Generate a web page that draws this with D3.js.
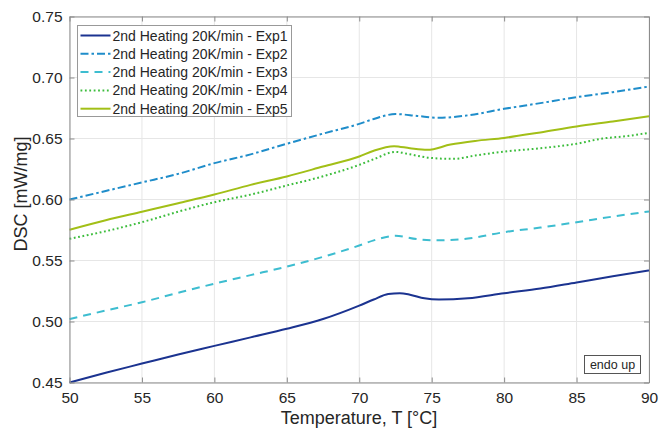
<!DOCTYPE html>
<html>
<head>
<meta charset="utf-8">
<script src="https://cdn.jsdelivr.net/npm/d3@7"></script>
<style>
  body { margin: 0; background: #fff; }
  svg { display: block; font-family: "Liberation Sans", Arial, sans-serif; }
  .grid line { stroke: #e6e6e6; stroke-width: 1; }
  .tick text { fill: #262626; }
</style>
</head>
<body>
<div id="chart"></div>
<script>
// Data (Temperature in °C, DSC in mW/mg)
const exp1T = [50, 52.5, 55, 57.5, 60, 62.5, 65, 67.5, 70, 71, 72, 72.8, 73.5, 74.5, 75.5, 77.5, 80, 82.5, 85, 87.5, 90];
const exp1V = [0.450, 0.458, 0.4655, 0.473, 0.480, 0.487, 0.494, 0.502, 0.513, 0.518, 0.5225, 0.5232, 0.522, 0.519, 0.518, 0.519, 0.5232, 0.527, 0.532, 0.537, 0.5418];

const exp2T = [50, 52.5, 55, 57.5, 60, 62.5, 65, 67.5, 70, 71, 72.5, 74, 75.5, 77.5, 80, 82.5, 85, 87.5, 90];
const exp2V = [0.600, 0.607, 0.614, 0.621, 0.6298, 0.637, 0.6457, 0.654, 0.662, 0.666, 0.670, 0.6685, 0.667, 0.669, 0.6743, 0.679, 0.6839, 0.688, 0.6926];

const exp3T = [50, 52.5, 55, 57.5, 60, 62.5, 65, 67.5, 70, 71, 72.5, 74, 75.5, 77.5, 80, 82.5, 85, 87.5, 90];
const exp3V = [0.502, 0.509, 0.5158, 0.5235, 0.531, 0.538, 0.545, 0.553, 0.5623, 0.5665, 0.5702, 0.5675, 0.5665, 0.568, 0.5732, 0.577, 0.5814, 0.586, 0.5902];

const exp4T = [50, 52.5, 55, 57.5, 60, 62.5, 65, 67.5, 70, 71, 72.5, 73.5, 75, 76.5, 78, 80, 82.5, 85, 86.8, 88.5, 90];
const exp4V = [0.5678, 0.574, 0.5814, 0.590, 0.5978, 0.604, 0.6115, 0.619, 0.6284, 0.633, 0.639, 0.637, 0.634, 0.6333, 0.636, 0.6393, 0.642, 0.6457, 0.650, 0.652, 0.6547];

const exp5T = [50, 52.5, 55, 57.5, 60, 62.5, 65, 67.5, 70, 71, 72.4, 73.5, 74.7, 76.3, 78, 80, 82.5, 85, 87.5, 90];
const exp5V = [0.5752, 0.583, 0.590, 0.597, 0.6041, 0.612, 0.6189, 0.627, 0.6352, 0.640, 0.6437, 0.642, 0.6407, 0.645, 0.648, 0.6505, 0.655, 0.6598, 0.664, 0.6683];

const seriesNames = [
  '2nd Heating 20K/min - Exp1',
  '2nd Heating 20K/min - Exp2',
  '2nd Heating 20K/min - Exp3',
  '2nd Heating 20K/min - Exp4',
  '2nd Heating 20K/min - Exp5'
];
const xTicks = [50, 55, 60, 65, 70, 75, 80, 85, 90];
const yTicks = [0.45, 0.50, 0.55, 0.60, 0.65, 0.70, 0.75];

const series = [
  { name: seriesNames[0], T: exp1T, V: exp1V, color: '#1b3390', dash: null },
  { name: seriesNames[1], T: exp2T, V: exp2V, color: '#1f8dca', dash: '8,3,2.5,3' },
  { name: seriesNames[2], T: exp3T, V: exp3V, color: '#3dbdd0', dash: '8,6' },
  { name: seriesNames[3], T: exp4T, V: exp4V, color: '#3dbd3d', dash: '1.8,2.6' },
  { name: seriesNames[4], T: exp5T, V: exp5V, color: '#a2bf17', dash: null }
];

const width = 659, height = 430;
const margin = { left: 69.5, right: 10, top: 16.5, bottom: 47.5 };

const svg = d3.select('#chart').append('svg')
  .attr('width', width)
  .attr('height', height);

const x = d3.scaleLinear().domain([50, 90]).range([margin.left, width - margin.right]);
const y = d3.scaleLinear().domain([0.45, 0.75]).range([height - margin.bottom, margin.top]);

// Grid
const grid = svg.append('g').attr('class', 'grid');
grid.selectAll('.gx').data(xTicks).join('line')
  .attr('x1', d => x(d)).attr('x2', d => x(d))
  .attr('y1', y(0.45)).attr('y2', y(0.75));
grid.selectAll('.gy').data(yTicks).join('line')
  .attr('y1', d => y(d)).attr('y2', d => y(d))
  .attr('x1', x(50)).attr('x2', x(90));

// Lines
const line = d3.line()
  .x(d => x(d[0]))
  .y(d => y(d[1]))
  .curve(d3.curveMonotoneX);

const plot = svg.append('g');
plot.selectAll('path').data(series).join('path')
  .attr('d', s => line(s.T.map((t, i) => [t, s.V[i]])))
  .attr('fill', 'none')
  .attr('stroke', s => s.color)
  .attr('stroke-width', 2)
  .attr('stroke-dasharray', s => s.dash);

// Axes (box style, ticks inward)
const axisColor = '#8c8c8c';
const xAxis = svg.append('g')
  .attr('transform', `translate(0,${y(0.45)})`)
  .call(d3.axisBottom(x).tickValues(xTicks).tickSizeInner(-5).tickSizeOuter(0).tickPadding(9).tickFormat(d3.format('d')));
const xTop = svg.append('g')
  .attr('transform', `translate(0,${y(0.75)})`)
  .call(d3.axisTop(x).tickValues(xTicks).tickSizeInner(-5).tickSizeOuter(0).tickFormat(''));
const yAxis = svg.append('g')
  .attr('transform', `translate(${x(50)},0)`)
  .call(d3.axisLeft(y).tickValues(yTicks).tickSizeInner(-5).tickSizeOuter(0).tickPadding(7).tickFormat(d3.format('.2f')));
const yRight = svg.append('g')
  .attr('transform', `translate(${x(90)},0)`)
  .call(d3.axisRight(y).tickValues(yTicks).tickSizeInner(-5).tickSizeOuter(0).tickFormat(''));

[xAxis, xTop, yAxis, yRight].forEach(a => {
  a.selectAll('.domain').attr('stroke', axisColor);
  a.selectAll('.tick line').attr('stroke', axisColor);
  a.selectAll('.tick text').attr('font-size', 15.5).attr('font-family', '"Liberation Sans", Arial, sans-serif');
});

// Axis labels
svg.append('text')
  .attr('x', 359).attr('y', 424)
  .attr('text-anchor', 'middle')
  .attr('font-size', 18)
  .attr('fill', '#262626')
  .text('Temperature, T [°C]');

svg.append('text')
  .attr('transform', `translate(27,194) rotate(-90)`)
  .attr('text-anchor', 'middle')
  .attr('font-size', 18)
  .attr('fill', '#262626')
  .text('DSC [mW/mg]');

// Legend
const legend = svg.append('g').attr('transform', 'translate(77.5,25.5)');
legend.append('rect')
  .attr('width', 214).attr('height', 91)
  .attr('fill', '#fff')
  .attr('stroke', '#999');
const items = legend.selectAll('g.item').data(series).join('g')
  .attr('class', 'item')
  .attr('transform', (d, i) => `translate(0,${10 + i * 18.3})`);
items.append('line')
  .attr('x1', 3).attr('x2', 33)
  .attr('stroke', d => d.color)
  .attr('stroke-width', 2)
  .attr('stroke-dasharray', d => d.dash);
items.append('text')
  .attr('x', 35).attr('y', 5)
  .attr('font-size', 14)
  .attr('fill', '#262626')
  .text(d => d.name);

// "endo up" annotation
const note = svg.append('g').attr('transform', 'translate(584.5,355.5)');
note.append('rect')
  .attr('width', 56).attr('height', 18)
  .attr('fill', '#fff')
  .attr('stroke', '#555');
note.append('text')
  .attr('x', 28).attr('y', 13.5)
  .attr('text-anchor', 'middle')
  .attr('font-size', 12.5)
  .attr('fill', '#262626')
  .text('endo up');
</script>
</body>
</html>
